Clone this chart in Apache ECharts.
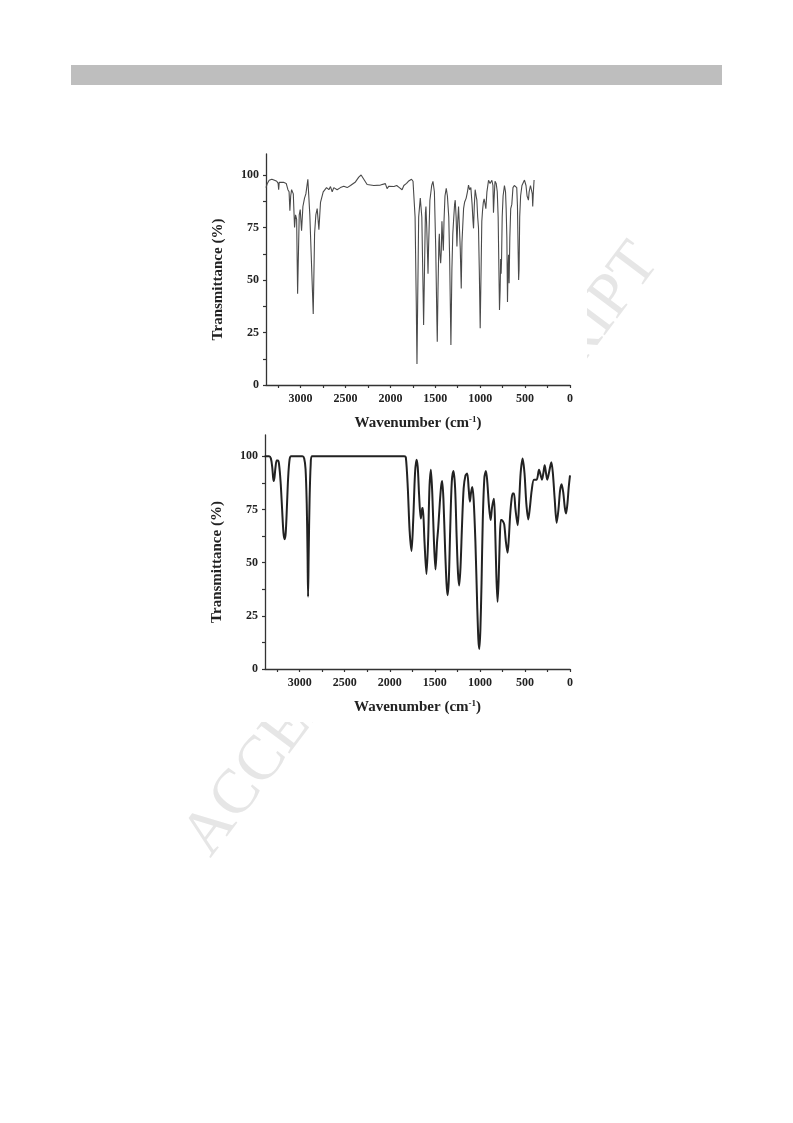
<!DOCTYPE html>
<html><head><meta charset="utf-8">
<script src="https://cdn.jsdelivr.net/npm/echarts@6/dist/echarts.min.js"></script>
<style>html,body{margin:0;padding:0;background:#fff;}#c{width:793px;height:1123px;}</style>
</head><body><div id="c"></div>
<script>
// Top spectrum (experimental): wavenumber (cm-1) and transmittance (%)
const topWn = [3385,3370,3350,3320,3290,3265,3250,3244,3238,3220,3190,3160,3141,3128,3119,3110,3100,3081,3067,3056,3044,3033,3015,3004,2989,2974,2956,2941,2919,2897,2859,2844,2830,2815,2796,2778,2748,2711,2685,2667,2648,2630,2593,2556,2519,2481,2444,2389,2352,2326,2296,2259,2185,2111,2056,2037,2019,2000,1960,1930,1900,1870,1850,1820,1800,1765,1748,1725,1712,1704,1696,1685,1667,1650,1638,1630,1620,1610,1604,1595,1585,1581,1575,1560,1540,1526,1510,1495,1482,1478,1470,1460,1455,1448,1440,1433,1426,1418,1410,1403,1392,1378,1365,1350,1340,1326,1315,1305,1296,1285,1278,1268,1259,1250,1241,1232,1222,1211,1203,1195,1185,1174,1156,1142,1130,1118,1104,1090,1080,1074,1066,1056,1045,1037,1028,1019,1010,1000,990,982,974,965,956,945,937,925,907,890,870,858,852,846,835,822,810,800,790,785,778,772,767,762,755,745,730,718,711,703,696,690,684,678,670,660,648,635,620,605,593,585,578,572,567,560,550,535,507,490,478,470,463,455,440,430,420,415,408,400];
const topT  = [94,96,97.5,98,97.5,97,96,93,96.5,97,96.5,96,93,92,83,90,93,91,75,81,79,43.5,81,83.5,73.5,85,89,91,98,81,33.8,72,81,84,74,87,92,94,93,94.5,92,94,93,94,94.6,94,95,96.7,99,100,98,95.5,95,95.2,95.9,93.5,94.6,95,94.5,95,94,93,95,96,97,98,97,80,40,10,40,80,89,80,50,28.6,55,82,85,75,60,53,65,88,95,97,92,65,30,20.6,45,68,72,62,58,64,78,70,64,78,90,93.7,90,80,60,19,55,72,78.6,86,88,80,66,78,85,76,65,46,68,75,84,87,89,92,95.2,93,94,86,78,74.6,85,93,90,88,80,75,55,27,55,78,83,87,88.6,86,84,92,97.5,96,97.5,95,82,88,97,96,92,80,50,35.7,45,60,53,60,80,90,95,92,84,70,39.5,55,62,48.5,70,84,86,94,95,95,94,85,65,50,55,80,90,95,97.6,95,90,89,88,92,95,95,91,85,92,97.6];

// Bottom spectrum (calculated): wavenumber (cm-1) and transmittance (%)
const botWn = [3389,3340,3320,3305,3295,3289,3280,3268,3255,3241,3230,3212,3195,3180,3167,3155,3142,3128,3112,3095,2970,2950,2935,2922,2913,2907,2900,2890,2878,2865,1840,1822,1800,1780,1759,1740,1720,1704,1690,1675,1656,1640,1633,1615,1593,1575,1560,1544,1528,1510,1493,1475,1463,1445,1430,1419,1405,1385,1370,1359,1345,1330,1312,1293,1275,1258,1243,1230,1215,1198,1180,1160,1141,1125,1111,1098,1085,1070,1050,1030,1017,1007,995,982,968,950,933,918,900,881,865,844,830,818,804,792,780,768,759,745,730,712,693,678,665,648,635,622,605,581,565,548,526,505,485,463,445,425,400,370,344,325,311,296,281,266,252,230,207,190,170,148,128,110,93,75,58,44,28,15,0];
const botT  = [100,100,99,95,90,88.4,90,95,98,98,96.5,88,75,64,61,64,76,90,98.5,100,100,99,94,78,55,34,55,80,96,100,100,99.5,85,65,55.5,70,92,98.4,95,82,70.7,75.5,75.7,60,44.6,60,85,93.7,82,60,46.8,60,66,78,86,88.4,80,55,40,34.7,42,65,88,93.1,85,62,45,39.3,48,68,85,91,91.9,85,78.6,83,85.6,80,60,30,14,9.4,18,40,70,90,93.1,88,77,70,76,80,65,45,31.6,42,60,70,70,69.5,68,60,54.6,62,72,80,82.5,82.5,75,67.6,78,92,98.9,92,78,70.3,76,84,89,89,93.7,91,89,92,95.8,92,89,93,97.2,92,80,68.7,75,84,86.9,83,76,73.1,78,85,91];

// Tick labels
const xLabels = [0,500,1000,1500,2000,2500,3000];
const xTicks = [0,250,500,750,1000,1250,1500,1750,2000,2250,2500,2750,3000,3250];
const yLabels = [0,25,50,75,100];
const yTicks = [0,12.5,25,37.5,50,62.5,75,87.5,100];

const FONT = '"Liberation Serif","Times New Roman",serif';
const chart = echarts.init(document.getElementById('c'), null, {renderer:'canvas'});

function xAxisCfg(idx){
  return {
    type:'value', gridIndex:idx, min:0, max:3385, inverse:true, position:'bottom',
    axisLine:{show:true, onZero:false, lineStyle:{color:'#333', width:1.3}},
    axisTick:{show:true, inside:false, length:3, customValues:xTicks, lineStyle:{color:'#333', width:1.2}},
    axisLabel:{customValues:xLabels, margin:8, formatter:v=>String(v), fontFamily:FONT, fontWeight:'bold', fontSize:12, color:'#222'},
    splitLine:{show:false},
    name:'{a|Wavenumber (cm}{s|-1}{a|)}', nameLocation:'middle', nameGap:30,
    nameTextStyle:{rich:{
      a:{fontFamily:FONT, fontWeight:'bold', fontSize:15, color:'#222'},
      s:{fontFamily:FONT, fontWeight:'bold', fontSize:9, color:'#222', verticalAlign:'top', padding:[0,0,7,0]}
    }}
  };
}
function yAxisCfg(idx){
  return {
    type:'value', gridIndex:idx, min:0, max:110, position:'left',
    axisLine:{show:true, onZero:false, lineStyle:{color:'#333', width:1.3}},
    axisTick:{show:true, inside:false, length:3, customValues:yTicks, lineStyle:{color:'#333', width:1.2}},
    axisLabel:{customValues:yLabels, margin:7, formatter:v=>String(v), fontFamily:FONT, fontWeight:'bold', fontSize:12, color:'#222'},
    splitLine:{show:false},
    name:'Transmittance (%)', nameLocation:'middle', nameGap:40, nameRotate:90,
    nameTextStyle:{fontFamily:FONT, fontWeight:'bold', fontSize:15, color:'#222', padding:[0,20,0,0]}
  };
}

chart.setOption({
  animation:false,
  backgroundColor:'#fff',
  graphic:[
    {type:'rect', z:-3, shape:{x:71, y:65, width:651, height:20}, style:{fill:'#bebebe'}},
    {type:'text', z:-3, x:422, y:550, rotation:53*Math.PI/180,
     style:{text:'ACCEPTED MANUSCRIPT', font:'normal 63px "Liberation Serif", serif', fill:'#e6e6e6', align:'center', verticalAlign:'middle'}},
    {type:'rect', z:-2, shape:{x:195, y:142, width:392, height:580}, style:{fill:'#fff'}}
  ],
  grid:[
    {left:266, top:154, width:304, height:231},
    {left:265, top:435, width:305, height:234}
  ],
  xAxis:[xAxisCfg(0), xAxisCfg(1)],
  yAxis:[yAxisCfg(0), yAxisCfg(1)],
  series:[
    {type:'line', xAxisIndex:0, yAxisIndex:0, showSymbol:false, smooth:false,
     lineStyle:{color:'#4a4a4a', width:1.1},
     data: topWn.map((w,i)=>[w, topT[i]])},
    {type:'line', xAxisIndex:1, yAxisIndex:1, showSymbol:false, smooth:0.3,
     lineStyle:{color:'#222', width:2},
     data: botWn.map((w,i)=>[w, botT[i]])}
  ]
});
</script></body></html>
